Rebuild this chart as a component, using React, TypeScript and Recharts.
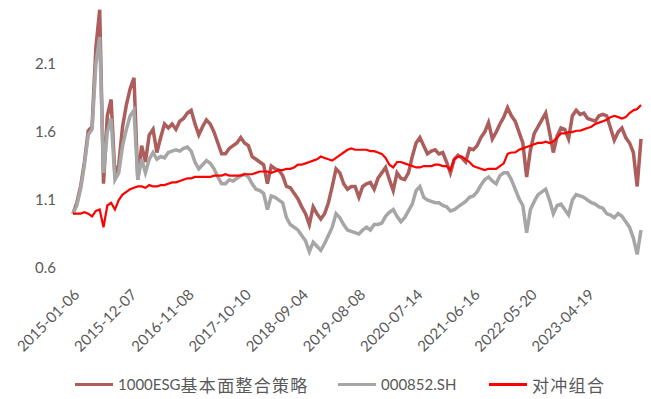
import { LineChart, Line, XAxis, YAxis } from 'recharts';

const tickLabels = [
  '2015-01-06', '2015-12-07', '2016-11-08', '2017-10-10', '2018-09-04',
  '2019-08-08', '2020-07-14', '2021-06-16', '2022-05-20', '2023-04-19',
];

const yTicks = [0.6, 1.1, 1.6, 2.1];

// 1000ESG基本面整合策略
const strategy = [
  1.0, 1.08, 1.2, 1.38, 1.61, 1.64, 2.22, 2.5, 1.22, 1.72,
  1.84, 1.28, 1.36, 1.64, 1.8, 1.92, 2.0, 1.25, 1.5, 1.38,
  1.58, 1.62, 1.45, 1.56, 1.66, 1.63, 1.66, 1.62, 1.68, 1.7,
  1.74, 1.76, 1.66, 1.58, 1.64, 1.69, 1.66, 1.6, 1.52, 1.44,
  1.44, 1.48, 1.5, 1.52, 1.56, 1.52, 1.5, 1.42, 1.4, 1.38,
  1.36, 1.22, 1.35, 1.33, 1.32, 1.28, 1.2, 1.19, 1.15, 1.11,
  1.05, 1.0, 0.92, 1.05, 1.0, 0.96, 1.0, 1.08, 1.2, 1.33,
  1.3, 1.22, 1.18, 1.2, 1.2, 1.12, 1.2, 1.22, 1.23, 1.18,
  1.26, 1.3, 1.34, 1.25, 1.17, 1.3, 1.26, 1.25, 1.3, 1.42,
  1.52, 1.56, 1.5, 1.44, 1.46, 1.47, 1.44, 1.45, 1.38, 1.3,
  1.4, 1.43, 1.41, 1.38, 1.48, 1.47, 1.5, 1.56, 1.6, 1.67,
  1.55, 1.6, 1.66, 1.71, 1.78, 1.72, 1.68, 1.6, 1.52, 1.27,
  1.47, 1.59, 1.64, 1.69, 1.74, 1.6, 1.45, 1.57, 1.63, 1.62,
  1.55, 1.72, 1.76, 1.73, 1.74, 1.7, 1.69, 1.68, 1.72, 1.73,
  1.72, 1.63, 1.54, 1.6, 1.63, 1.56, 1.52, 1.45, 1.2, 1.55,
];

// 000852.SH
const benchmark = [
  1.0, 1.06, 1.18, 1.36, 1.58, 1.62, 2.1, 2.3, 1.3, 1.6,
  1.7, 1.25, 1.3, 1.5, 1.62, 1.72, 1.76, 1.25, 1.4, 1.3,
  1.4, 1.45, 1.4, 1.42, 1.41, 1.45, 1.46, 1.47, 1.46, 1.48,
  1.49, 1.46, 1.38, 1.33, 1.36, 1.39, 1.37, 1.33, 1.27, 1.22,
  1.22, 1.25, 1.24, 1.26, 1.28, 1.29, 1.27, 1.22, 1.18, 1.17,
  1.15, 1.03, 1.13, 1.12, 1.1, 1.08, 0.97, 0.92, 0.9, 0.88,
  0.84, 0.8, 0.72, 0.79, 0.76, 0.73, 0.78, 0.84, 0.9, 1.0,
  0.97, 0.92, 0.88, 0.87, 0.86, 0.85, 0.88, 0.9, 0.88, 0.92,
  0.92, 0.93, 0.98, 1.01, 1.03, 0.98, 0.94, 0.97, 1.02, 1.07,
  1.17, 1.2, 1.12, 1.1, 1.09, 1.08, 1.08, 1.06, 1.05, 1.02,
  1.03, 1.05, 1.07, 1.09, 1.12, 1.13, 1.16, 1.21, 1.25, 1.27,
  1.24, 1.22, 1.28, 1.3, 1.3, 1.25, 1.18, 1.11, 1.06, 0.86,
  1.03, 1.09, 1.14, 1.16, 1.18, 1.1, 1.0, 1.06, 1.07, 1.03,
  0.99, 1.1, 1.14, 1.13, 1.12, 1.1, 1.08, 1.07, 1.05, 1.04,
  1.0, 0.99, 0.97, 1.0, 0.98, 0.94, 0.9, 0.82, 0.7, 0.88,
];

// 对冲组合
const hedge = [
  1.0, 1.0, 1.0, 1.01, 1.0, 0.98, 1.02, 1.03, 0.9, 1.06,
  1.08, 1.03, 1.1, 1.14, 1.16, 1.18, 1.19, 1.2, 1.2, 1.19,
  1.21, 1.2, 1.2, 1.21, 1.21, 1.22, 1.23, 1.23, 1.24, 1.25,
  1.26, 1.26, 1.27, 1.27, 1.27, 1.27, 1.27, 1.28, 1.28, 1.28,
  1.29, 1.28, 1.28, 1.28, 1.28, 1.29, 1.29, 1.29, 1.3, 1.31,
  1.31, 1.31, 1.3, 1.31, 1.32, 1.32, 1.33, 1.33, 1.34, 1.36,
  1.36, 1.37, 1.38, 1.39, 1.4, 1.42, 1.41, 1.4, 1.39, 1.41,
  1.43, 1.45, 1.47, 1.48, 1.47, 1.47, 1.47, 1.47, 1.46, 1.46,
  1.45, 1.44, 1.41, 1.36, 1.34, 1.38, 1.38, 1.37, 1.36, 1.35,
  1.34, 1.34, 1.35, 1.35, 1.35, 1.36, 1.36, 1.35, 1.35, 1.32,
  1.4, 1.42, 1.42, 1.4, 1.38, 1.35, 1.34, 1.33, 1.32, 1.33,
  1.33, 1.33, 1.35, 1.37, 1.44, 1.45, 1.45, 1.47, 1.48, 1.49,
  1.5, 1.51, 1.52, 1.52, 1.53, 1.52, 1.53, 1.56, 1.59, 1.59,
  1.6, 1.6, 1.61, 1.61, 1.62, 1.63, 1.64, 1.66, 1.67, 1.68,
  1.69, 1.71, 1.72, 1.71, 1.7, 1.71, 1.74, 1.76, 1.77, 1.8,
];

const TICK_STEP = 15;

const rows = strategy.map((v, i) => ({
  i,
  strategy: v,
  benchmark: benchmark[i],
  hedge: hedge[i],
}));

const BROWN = '#AB5E5C';
const GREY = '#A6A6A6';
const RED = '#FF0000';
const TEXT = '#595959';

const legendItems = [
  { label: '1000ESG', cjk: '基本面整合策略', color: BROWN, left: 75 },
  { label: '000852.SH', cjk: '', color: GREY, left: 338 },
  { label: '', cjk: '对冲组合', color: RED, left: 489 },
];

export default function App() {
  return (
    <div style={{ position: 'absolute', left: 0, top: 0, width: 651, height: 399, background: '#fff' }}>
      <LineChart width={651} height={399} data={rows} margin={{ top: 3, right: 10, left: 0, bottom: 0 }}>
        <XAxis
          dataKey="i"
          type="number"
          domain={[0, strategy.length - 1]}
          ticks={tickLabels.map((_, k) => k * TICK_STEP)}
          tickFormatter={(v) => tickLabels[Math.round(v / TICK_STEP)]}
          interval={0}
          axisLine={false}
          tickLine={false}
          tickMargin={14}
          angle={-45}
          textAnchor="end"
          height={131}
          tick={{ fill: TEXT, fontSize: 15, fontFamily: 'Lato' }}
        />
        <YAxis
          domain={[0.6, 2.55]}
          ticks={yTicks}
          axisLine={false}
          tickLine={false}
          tickMargin={11}
          width={73}
          tick={{ fill: TEXT, fontSize: 15, fontFamily: 'Lato' }}
        />
        <Line dataKey="strategy" stroke={BROWN} strokeWidth={3.5} dot={false} isAnimationActive={false} />
        <Line dataKey="benchmark" stroke={GREY} strokeWidth={3.5} dot={false} isAnimationActive={false} />
        <Line dataKey="hedge" stroke={RED} strokeWidth={2.2} dot={false} isAnimationActive={false} />
      </LineChart>
      {legendItems.map((it) => (
        <div
          key={it.color}
          style={{
            position: 'absolute',
            left: it.left,
            top: 372,
            height: 24,
            display: 'flex',
            alignItems: 'center',
            whiteSpace: 'nowrap',
            color: TEXT,
          }}
        >
          <span style={{ display: 'inline-block', width: 38, height: 3, background: it.color, marginRight: 5 }} />
          {it.label && <span style={{ fontFamily: 'Lato', fontSize: 15 }}>{it.label}</span>}
          {it.cjk && (
            <span style={{ fontFamily: '"Noto Sans CJK SC"', fontSize: 17, letterSpacing: 1.3 }}>{it.cjk}</span>
          )}
        </div>
      ))}
    </div>
  );
}
